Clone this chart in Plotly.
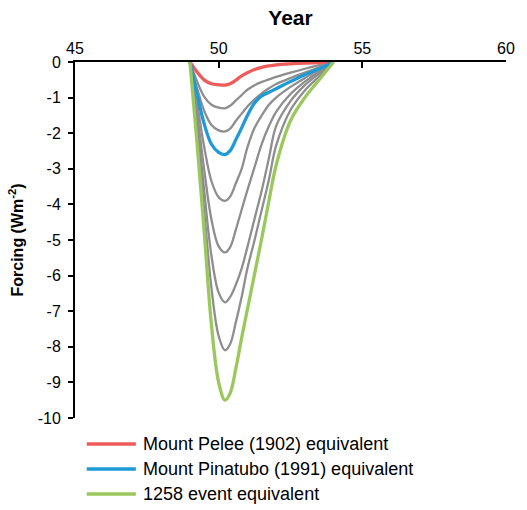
import plotly.graph_objects as go

years = [49.0, 49.25, 49.5, 49.75, 50.0, 50.22, 50.4, 50.6, 50.8, 51.0, 51.25, 51.5, 51.75, 52.0, 52.5, 53.0, 53.5, 54.0]

pelee = [0, -0.28, -0.51, -0.61, -0.64, -0.65, -0.61, -0.51, -0.39, -0.30, -0.21, -0.15, -0.11, -0.08, -0.05, -0.03, -0.015, 0]
gray1 = [0, -0.55, -0.98, -1.20, -1.28, -1.30, -1.23, -1.08, -0.93, -0.78, -0.65, -0.56, -0.49, -0.42, -0.30, -0.19, -0.09, 0]
gray2 = [0, -0.74, -1.38, -1.77, -1.92, -1.95, -1.87, -1.65, -1.45, -1.25, -1.05, -0.88, -0.74, -0.62, -0.45, -0.30, -0.15, 0]
pinatubo = [0, -0.91, -1.75, -2.31, -2.54, -2.60, -2.49, -2.18, -1.85, -1.50, -1.15, -0.95, -0.85, -0.75, -0.55, -0.36, -0.19, 0]
gray3 = [0, -1.17, -2.40, -3.35, -3.80, -3.90, -3.78, -3.40, -3.00, -2.40, -1.85, -1.50, -1.20, -1.00, -0.70, -0.45, -0.22, 0]
gray4 = [0, -1.44, -3.05, -4.43, -5.18, -5.35, -5.20, -4.70, -4.15, -3.60, -2.95, -2.30, -1.80, -1.40, -0.90, -0.55, -0.27, 0]
gray5 = [0, -1.69, -3.65, -5.45, -6.48, -6.75, -6.60, -6.25, -5.80, -5.20, -4.40, -3.60, -2.70, -1.80, -1.10, -0.65, -0.32, 0]
gray6 = [0, -1.94, -4.20, -6.35, -7.70, -8.10, -7.92, -7.30, -6.60, -5.80, -5.00, -4.15, -3.30, -2.35, -1.35, -0.80, -0.40, 0]
event1258 = [0, -2.30, -4.80, -7.40, -9.00, -9.50, -9.30, -8.60, -7.75, -6.95, -5.95, -4.95, -3.90, -2.90, -1.65, -1.00, -0.50, 0]

y_ticks = list(range(-10, 1))
y_tick_labels = [str(v).replace("\u2212", "-") for v in y_ticks]
x_ticks = [45, 50, 55, 60]

grays = [gray1, gray2, gray3, gray4, gray5, gray6]
names = ["Mount Pelee (1902) equivalent", "Mount Pinatubo (1991) equivalent", "1258 event equivalent"]
colors = ["#EE5B5B", "#1E9AD6", "#9BC85C"]

fig = go.Figure()
for g in grays:
    fig.add_trace(go.Scatter(x=years, y=g, mode="lines", line=dict(color="#8E8E8E", width=2.3, shape="spline", smoothing=1.0),
                             showlegend=False, hoverinfo="skip"))
for series, name, col in zip([pelee, pinatubo, event1258], names, colors):
    fig.add_trace(go.Scatter(x=years, y=series, mode="lines", name=name, showlegend=False,
                             line=dict(color=col, width=3.3, shape="spline", smoothing=1.0)))

# legend drawn manually below the plot (keeps plot area fixed)
legend_rows = [-0.073, -0.1433, -0.2135]
for name, col, ry in zip(names, colors, legend_rows):
    fig.add_shape(type="line", xref="paper", yref="paper", x0=0.0273, x1=0.1412, y0=ry, y1=ry,
                  line=dict(color=col, width=3.5))
    fig.add_annotation(xref="paper", yref="paper", x=0.1526, y=ry, text=name, showarrow=False,
                       xanchor="left", yanchor="middle", font=dict(size=18, color="black"))

font = "Liberation Sans, Arial, sans-serif"
fig.update_layout(
    width=527, height=510,
    margin=dict(l=75, r=13, t=62, b=92),
    paper_bgcolor="white", plot_bgcolor="white",
    font=dict(family=font, size=16, color="black"),
    showlegend=False,
    xaxis=dict(side="top", range=[45, 60], tickvals=x_ticks, ticks="inside", ticklen=6,
               tickwidth=2, tickcolor="black", showline=True, linecolor="black", linewidth=2,
               showgrid=False, zeroline=False, tickfont=dict(size=16),
               title=dict(text="<b>Year</b>", font=dict(size=21), standoff=8)),
    yaxis=dict(range=[-10, 0], tickvals=y_ticks, ticktext=y_tick_labels, ticks="outside", ticklen=5,
               tickwidth=2, tickcolor="black", showline=True, linecolor="black", linewidth=2,
               showgrid=False, zeroline=False, tickfont=dict(size=16), ticklabelstandoff=4,
               title=dict(text="<b>Forcing (Wm<sup>-2</sup>)</b>", font=dict(size=16), standoff=10)),
)
fig.write_html("out.html")
